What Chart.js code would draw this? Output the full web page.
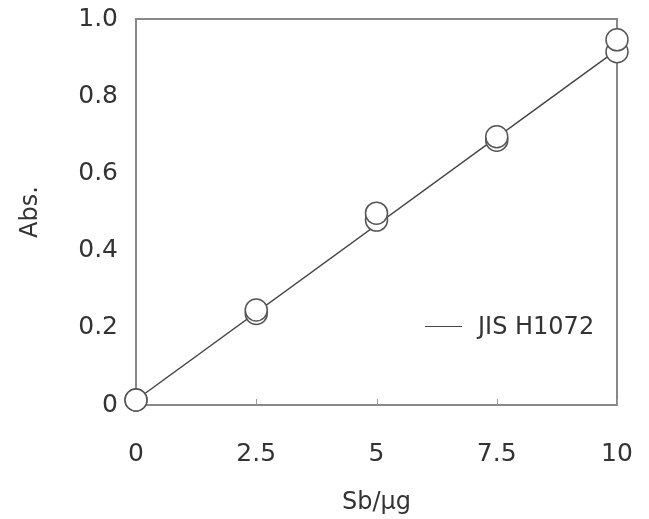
<!DOCTYPE html>
<html>
<head>
<meta charset="utf-8">
<script src="https://cdn.jsdelivr.net/npm/chart.js@4.4.0/dist/chart.umd.min.js"></script>
<style>
  html, body { margin: 0; padding: 0; background: #ffffff; }
  #wrap { position: relative; width: 634px; height: 519px; overflow: hidden; }
  #legend { position: absolute; left: 425px; top: 311px; height: 30px; display: flex; align-items: center;
            font-family: "DejaVu Sans", sans-serif; font-size: 24px; color: #333; white-space: nowrap; }
  #legend .ln { width: 37px; height: 0; border-top: 1.5px solid #444; margin-right: 16px; }
</style>
</head>
<body>
<div id="wrap">
  <canvas id="c" width="649" height="519"></canvas>
  <div id="legend"><span class="ln"></span><span>JIS H1072</span></div>
</div>
<script>
// ---- data ----
const sbAmounts = [0, 2.5, 5, 7.5, 10];            // Sb / µg
const absSeriesHigh = [0.013, 0.246, 0.497, 0.695, 0.946];
const absSeriesLow  = [0.013, 0.237, 0.479, 0.686, 0.915];
const fitLineX = [0, 10];
const fitLineY = [0.013, 0.920];
const xTickValues = [0, 2.5, 5, 7.5, 10];
const xTickLabels = ['0', '2.5', '5', '7.5', '10'];
const yTickLabels = ['0', '0.2', '0.4', '0.6', '0.8', '1.0'];
const legendLabel = 'JIS H1072';
const xTitle = 'Sb/\u03BCg';
const yTitle = 'Abs.';

const FONT = '"DejaVu Sans", sans-serif';
const toPts = (xs, ys) => xs.map((x, i) => ({x: x, y: ys[i]}));

const frameAndTicks = {
  id: 'frameAndTicks',
  beforeDatasetsDraw(chart) {
    const {ctx, chartArea, scales} = chart;
    ctx.save();
    ctx.strokeStyle = '#888';
    ctx.lineWidth = 2;
    ctx.strokeRect(chartArea.left, chartArea.top, chartArea.right - chartArea.left, chartArea.bottom - chartArea.top);
    ctx.strokeStyle = '#999';
    ctx.lineWidth = 1;
    xTickValues.forEach(v => {
      const px = Math.round(scales.x.getPixelForValue(v)) + 0.5;
      ctx.beginPath();
      ctx.moveTo(px, chartArea.bottom);
      ctx.lineTo(px, chartArea.bottom - 6);
      ctx.stroke();
    });
    ctx.restore();
  }
};

const hiddenTicks = (len) => ({
  display: true, drawOnChartArea: false, drawTicks: true,
  tickLength: len, tickColor: 'rgba(0,0,0,0)'
});

new Chart(document.getElementById('c'), {
  type: 'scatter',
  data: {
    datasets: [
      {
        label: 'high',
        data: toPts(sbAmounts, absSeriesHigh),
        pointRadius: 11,
        pointHoverRadius: 11,
        pointBackgroundColor: '#ffffff',
        pointBorderColor: '#555',
        pointBorderWidth: 1.5,
        showLine: false,
        clip: false,
        order: 0
      },
      {
        label: 'low',
        data: toPts(sbAmounts, absSeriesLow),
        pointRadius: 11,
        pointHoverRadius: 11,
        pointBackgroundColor: '#ffffff',
        pointBorderColor: '#555',
        pointBorderWidth: 1.5,
        showLine: false,
        clip: false,
        order: 1
      },
      {
        label: legendLabel,
        data: toPts(fitLineX, fitLineY),
        showLine: true,
        borderColor: '#444',
        borderWidth: 1.5,
        pointRadius: 0,
        clip: false,
        order: 2
      }
    ]
  },
  options: {
    responsive: false,
    animation: false,
    devicePixelRatio: 1,
    layout: { autoPadding: false, padding: { left: 0, right: 32, top: 19, bottom: 0 } },
    plugins: { legend: { display: false }, tooltip: { enabled: false } },
    scales: {
      x: {
        type: 'linear', position: 'bottom', min: 0, max: 10,
        afterBuildTicks: s => { s.ticks = xTickValues.map(v => ({value: v})); },
        afterFit: s => { s.height = 114; },
        grid: hiddenTicks(34),
        border: { display: true, color: '#888', width: 2 },
        ticks: {
          padding: 0, color: '#333', font: { family: FONT, size: 25 },
          maxRotation: 0, autoSkip: false,
          callback: (v, i) => xTickLabels[i]
        },
        title: { display: true, text: xTitle, color: '#333', font: { family: FONT, size: 24 },
                 padding: { top: 0, bottom: 2 } }
      },
      y: {
        type: 'linear', position: 'left', min: 0, max: 1.0,
        afterBuildTicks: s => { s.ticks = yTickLabels.map(t => ({value: parseFloat(t)})); },
        afterFit: s => { s.width = 136; },
        grid: hiddenTicks(18),
        border: { display: true, color: '#888', width: 2 },
        ticks: {
          padding: 0, color: '#333', font: { family: FONT, size: 25 },
          autoSkip: false,
          callback: (v, i) => yTickLabels[i]
        },
        title: { display: true, text: yTitle, color: '#333', font: { family: FONT, size: 24 },
                 padding: { top: 16, bottom: 0 } }
      }
    }
  },
  plugins: [frameAndTicks]
});
</script>
</body>
</html>
